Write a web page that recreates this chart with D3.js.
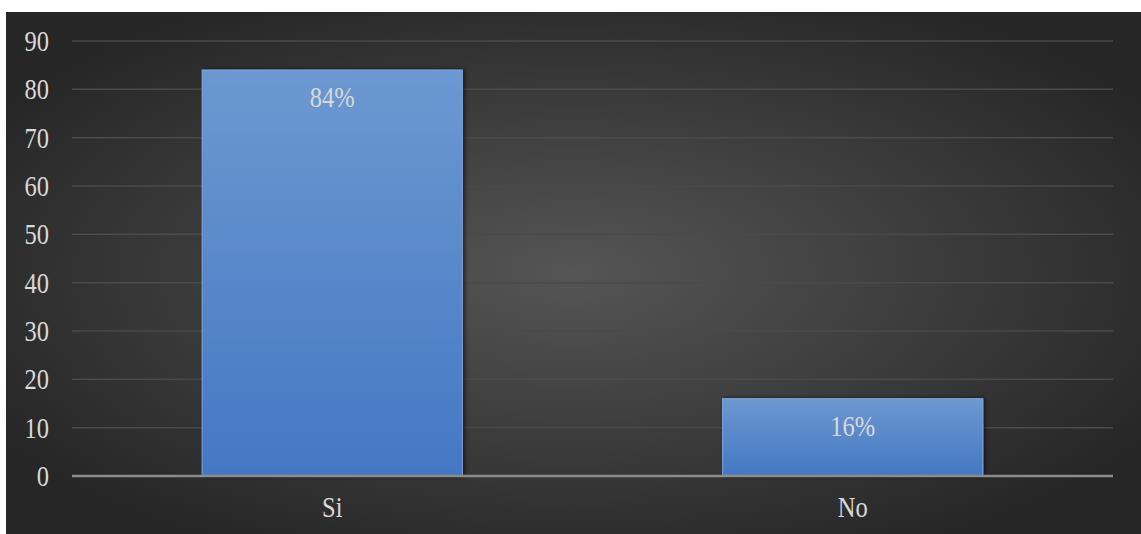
<!DOCTYPE html>
<html>
<head>
<meta charset="utf-8">
<script src="https://cdn.jsdelivr.net/npm/d3@7"></script>
<style>
  html, body { margin: 0; padding: 0; background: #fff; }
  #chart { width: 1141px; height: 534px; }
</style>
</head>
<body>
<div id="chart"></div>
<script>
const categories = ["Si", "No"];
const values = [84, 16];
const valueLabels = ["84%", "16%"];
const yTicks = [0, 10, 20, 30, 40, 50, 60, 70, 80, 90];

const W = 1141, H = 534;
const panel = { x: 6, y: 12 };
const margin = { top: 41, right: 28, bottom: 58, left: 72 };
const FONT = "Liberation Serif, Times New Roman, serif";
const SY = 1.18; // the reference text is slightly stretched vertically

const svg = d3.select("#chart").append("svg")
  .attr("width", W)
  .attr("height", H);

const defs = svg.append("defs");
const bg = defs.append("radialGradient").attr("id", "bg")
  .attr("cx", "50%").attr("cy", "50%").attr("r", "60%");
bg.append("stop").attr("offset", "0%").attr("stop-color", "#555555");
bg.append("stop").attr("offset", "100%").attr("stop-color", "#262626");

const barGrad = defs.append("linearGradient").attr("id", "bar")
  .attr("x1", 0).attr("y1", 0).attr("x2", 0).attr("y2", 1);
barGrad.append("stop").attr("offset", "0%").attr("stop-color", "#6d98d1");
barGrad.append("stop").attr("offset", "100%").attr("stop-color", "#4378c3");

const shadow = defs.append("filter").attr("id", "shadow")
  .attr("x", "-10%").attr("y", "-10%").attr("width", "120%").attr("height", "120%");
shadow.append("feDropShadow")
  .attr("dx", 2).attr("dy", 0).attr("stdDeviation", 2)
  .attr("flood-color", "#000").attr("flood-opacity", 0.6);

svg.append("rect")
  .attr("x", panel.x).attr("y", panel.y)
  .attr("width", W - panel.x).attr("height", H - panel.y)
  .attr("fill", "url(#bg)");

const x = d3.scaleBand()
  .domain(categories)
  .range([margin.left, W - margin.right])
  .paddingInner(0.5)
  .paddingOuter(0.25);

const y = d3.scaleLinear()
  .domain([0, 90])
  .range([H - margin.bottom, margin.top]);

// gridlines
svg.append("g")
  .selectAll("line")
  .data(yTicks.filter(d => d > 0))
  .join("line")
    .attr("x1", margin.left).attr("x2", W - margin.right)
    .attr("y1", d => y(d)).attr("y2", d => y(d))
    .attr("stroke", "#4a4a4a")
    .attr("stroke-width", 1.5);

// y tick labels
svg.append("g")
  .selectAll("text")
  .data(yTicks)
  .join("text")
    .attr("transform", d => `translate(49,${y(d) + 10}) scale(1,${SY})`)
    .attr("text-anchor", "end")
    .attr("font-family", FONT)
    .attr("font-size", 24.5)
    .attr("fill", "#d9d9d9")
    .text(d => d);

// bars
svg.append("g")
  .selectAll("rect")
  .data(values)
  .join("rect")
    .attr("x", (d, i) => x(categories[i]))
    .attr("y", d => y(d))
    .attr("width", x.bandwidth())
    .attr("height", d => y(0) - y(d))
    .attr("fill", "url(#bar)")
    .attr("stroke", "#7fa6dc")
    .attr("stroke-width", 1)
    .attr("filter", "url(#shadow)");

// value labels
svg.append("g")
  .selectAll("text")
  .data(values)
  .join("text")
    .attr("transform", (d, i) => `translate(${x(categories[i]) + x.bandwidth() / 2},${y(d) + 37}) scale(1,${SY})`)
    .attr("text-anchor", "middle")
    .attr("font-family", FONT)
    .attr("font-size", 24.5)
    .attr("fill", "#d9d9d9")
    .text((d, i) => valueLabels[i]);

// x axis line
svg.append("line")
  .attr("x1", margin.left).attr("x2", W - margin.right)
  .attr("y1", y(0)).attr("y2", y(0))
  .attr("stroke", "#8c8c8c")
  .attr("stroke-width", 2.5);

// category labels
svg.append("g")
  .selectAll("text")
  .data(categories)
  .join("text")
    .attr("transform", d => `translate(${x(d) + x.bandwidth() / 2},${y(0) + 41}) scale(1,${SY})`)
    .attr("text-anchor", "middle")
    .attr("font-family", FONT)
    .attr("font-size", 24.5)
    .attr("fill", "#d9d9d9")
    .text(d => d);
</script>
</body>
</html>
